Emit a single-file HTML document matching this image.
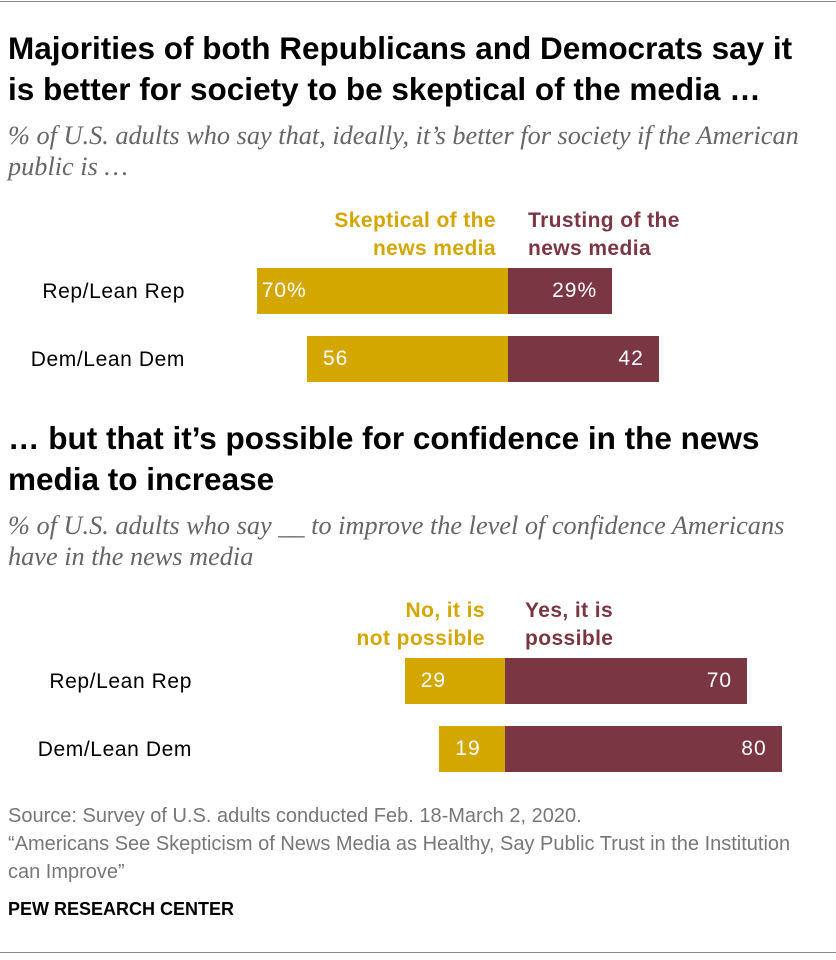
<!DOCTYPE html>
<html><head><meta charset="utf-8"><style>
body{margin:0;width:836px;height:960px;background:#fff;font-family:"Liberation Sans",sans-serif;position:relative;overflow:hidden}
.a{position:absolute;white-space:nowrap}
.t{font-weight:bold;font-size:31.5px;color:#000;line-height:41px;left:8px}
.s{font-family:"Liberation Serif",serif;font-style:italic;font-size:26.3px;color:#666;line-height:31px;left:8px}
.lg{font-weight:bold;font-size:21px;letter-spacing:0.4px;line-height:28px}
.rl{font-size:21px;letter-spacing:0.6px;color:#000}
.vl{font-size:21px;letter-spacing:1px;color:#fff}
.src{font-size:20px;color:#777;left:8px}
</style></head><body>
<div class="a" style="left:0;top:1px;width:836px;height:1px;background:#888"></div>
<div class="a t" style="top:28px">Majorities of both Republicans and Democrats say it<br>is better for society to be skeptical of the media …</div>
<div class="a s" style="top:120px">% of U.S. adults who say that, ideally, it’s better for society if the American<br>public is …</div>
<div class="a lg" style="right:340px;top:207px;text-align:right;color:#D4A600">Skeptical of the<br>news media</div>
<div class="a lg" style="left:528px;top:207px;color:#7B3644">Trusting of the<br>news media</div>
<div class="a t" style="top:418px">… but that it’s possible for confidence in the news<br>media to increase</div>
<div class="a s" style="top:510px">% of U.S. adults who say __ to improve the level of confidence Americans<br>have in the news media</div>
<div class="a lg" style="right:351px;top:597px;text-align:right;color:#D4A600">No, it is<br>not possible</div>
<div class="a lg" style="left:525px;top:597px;color:#7B3644">Yes, it is<br>possible</div>
<div id="c"></div>
<div class="a src" style="top:802px;line-height:28px">Source: Survey of U.S. adults conducted Feb. 18-March 2, 2020.<br>“Americans See Skepticism of News Media as Healthy, Say Public Trust in the Institution<br>can Improve”</div>
<div class="a" style="left:8px;top:899px;font-weight:bold;font-size:18px">PEW RESEARCH CENTER</div>
<div class="a" style="left:0;top:952px;width:836px;height:1px;background:#888"></div>
<script>
const groups=["Rep/Lean Rep","Dem/Lean Dem"];
const skeptical=[70,56];
const trusting=[29,42];
const notPossible=[29,19];
const possible=[70,80];
const c=document.getElementById('c');
function mk(l,t,w,h,bg,name){const d=document.createElement('div');d.className='a';d.style.cssText=`left:${l}px;top:${t}px;width:${w}px;height:${h}px;background:${bg}`;


c.appendChild(d);return d;}
function txt(s,l,t,cls,extra,name){const d=document.createElement('div');d.className='a '+cls;d.textContent=s;d.style.cssText=`left:${l}px;top:${t}px;`+extra;


c.appendChild(d);return d;}
function chart(cx,k,tops,L,R,labelRight,pct){
 tops.forEach((y,i)=>{
  const lw=L[i]*k,rw=R[i]*k;
  mk(cx-lw,y,lw,46,'#D4A600','bar-left-'+i);
  mk(cx,y,rw,46,'#7B3644','bar-right-'+i);
  txt(L[i]+(pct&&i==0?'%':''),cx-lw+(pct&&i==0?5:16),y+11,'vl','','value-left-'+i);
  const r=txt(R[i]+(pct&&i==0?'%':''),0,y+11,'vl','','value-right-'+i);r.style.left='auto';r.style.right=(836-(cx+rw)+15)+'px';
  const g=txt(groups[i],0,y+12,'rl','','group-label-'+i);g.style.left='auto';g.style.right=(836-labelRight)+'px';
 });
}
chart(508,3.59,[268,336],skeptical,trusting,185,true);
chart(505,3.458,[658,726],notPossible,possible,192,false);
</script>
</body></html>
